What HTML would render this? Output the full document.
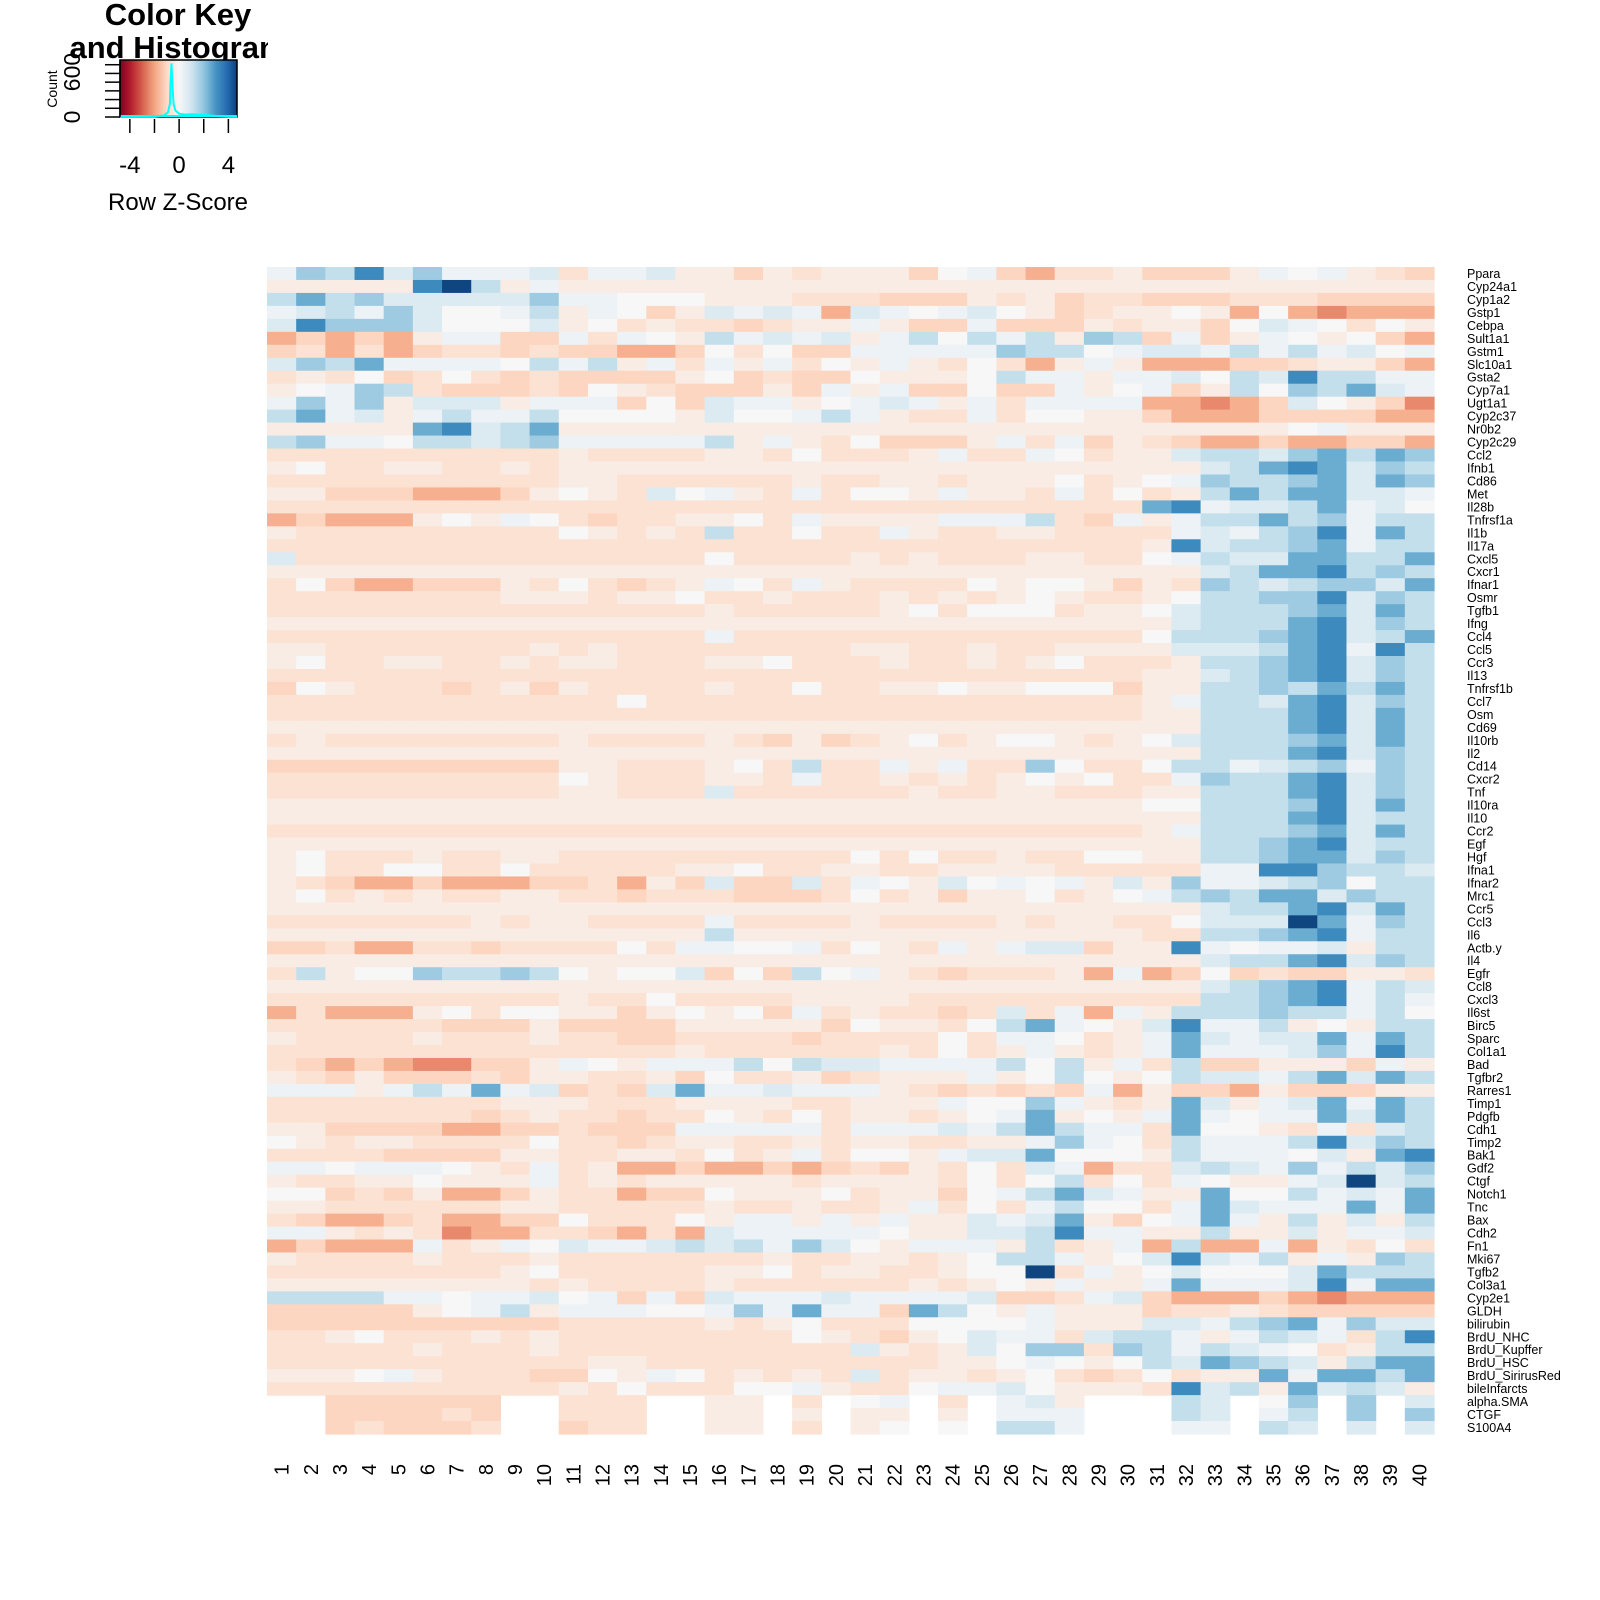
<!DOCTYPE html>
<html><head><meta charset="utf-8"><style>
html,body{margin:0;padding:0;background:#fff;}
svg{display:block;font-family:"Liberation Sans",Arial,sans-serif;}
</style></head><body>
<svg id="chart" width="1600" height="1600" viewBox="0 0 1600 1600" xmlns="http://www.w3.org/2000/svg">
<defs>
<clipPath id="keyclip"><rect x="0" y="0" width="268" height="240"/></clipPath>
<linearGradient id="keygrad" x1="0" x2="1" y1="0" y2="0"></linearGradient>
</defs>
<g id="key" clip-path="url(#keyclip)">
<text x="178" y="25" text-anchor="middle" font-weight="bold" font-size="31">Color Key</text>
<text x="178" y="58" text-anchor="middle" font-weight="bold" font-size="31">and Histogram</text>
</g>
<g id="heat"></g>
<g id="rowlabels"></g>
<g id="collabels"></g>
</svg>
<script>
const rowNames=["Ppara","Cyp24a1","Cyp1a2","Gstp1","Cebpa","Sult1a1","Gstm1","Slc10a1","Gsta2","Cyp7a1","Ugt1a1","Cyp2c37","Nr0b2","Cyp2c29","Ccl2","Ifnb1","Cd86","Met","Il28b","Tnfrsf1a","Il1b","Il17a","Cxcl5","Cxcr1","Ifnar1","Osmr","Tgfb1","Ifng","Ccl4","Ccl5","Ccr3","Il13","Tnfrsf1b","Ccl7","Osm","Cd69","Il10rb","Il2","Cd14","Cxcr2","Tnf","Il10ra","Il10","Ccr2","Egf","Hgf","Ifna1","Ifnar2","Mrc1","Ccr5","Ccl3","Il6","Actb.y","Il4","Egfr","Ccl8","Cxcl3","Il6st","Birc5","Sparc","Col1a1","Bad","Tgfbr2","Rarres1","Timp1","Pdgfb","Cdh1","Timp2","Bak1","Gdf2","Ctgf","Notch1","Tnc","Bax","Cdh2","Fn1","Mki67","Tgfb2","Col3a1","Cyp2e1","GLDH","bilirubin","BrdU_NHC","BrdU_Kupffer","BrdU_HSC","BrdU_SirirusRed","bileInfarcts","alpha.SMA","CTGF","S100A4"];
const colNames=["1","2","3","4","5","6","7","8","9","10","11","12","13","14","15","16","17","18","19","20","21","22","23","24","25","26","27","28","29","30","31","32","33","34","35","36","37","38","39","40"];
const levelCodes="rRspqwbcCdDef";
const levelValues=[-2.4,-1.8,-1.1,-0.75,-0.4,0,0.3,0.7,1.2,1.8,2.5,3.2,4.6];
const rowCodes=[
"bdCecdbbbcpbbcqqsqpqqqswbsRppqsssqbwbqps",
"qqqqqefCqbqqqqqqqqqqqqqqqqqqqqqqqqqqqqqq",
"CDCdcccccdbbwwwqqqpppsssqpqsppssspppssss",
"bcCbdcwwbCqbwsqcbcbRcbwbcwqspqqwqRwRrRRR",
"cedddcwwwcqwpqppspqqbqssbsssqpqqswcbwpwq",
"RsRsRqbbssbpbwqCbcbcqbCwCbCqdCsbsqbwqwsR",
"spRpRsppspssRRswpwssbbbbbdCCwbccbCbCbcwb",
"cdCDbbbbwCbCqbpbqbpwqbqpwpRqbqRRRsspqqsR",
"pqpwspwpspssssqwspsswqqqwCbbqbbcwCceCCbb",
"qwbdCpssspswqpsssqsbqbsswssbqwbsqCwdCDcb",
"bdbdqcccqbbbswscbbqwbcbqbpbbbbRRrRscwqsr",
"CDbcqbCbbCwwwwqcwwbCbqppbpwwqqsRRRssssRR",
"qqqqqDecCDqqqqqqqqqqqqqqqqqqqqqqqqqwbqqq",
"CdbbwCCcCdbbbbbCqbqpwsssqbpbsqpsRRsRRssR",
"ppppppppppqppppqqpwpppqbppbwpqqcCCcdDCDd",
"qwppqqppqpqqqqqqqqqqqqqqqqqqqqqqcCDeDcdC",
"ppppppppppqqppppppqppqqpqqqwpqwbdCCdDcDd",
"qqsssRRRsqwqpcwbqpbpwwqbqqpbpwpqCDCDDccb",
"ppppppppppppppppppppppppppppppDebccCDbcw",
"RsRRRqwqbwpsppqqwpbqqqqbbbCpsbqbCCDCdbCC",
"qpppppppppwqpqpCppwppbqppqqppppbcbCdebDC",
"ppppppppppppppppppppppppppppppqecCCdDbCC",
"cpppppppppppppwppppqpqpppqqppwbCccDDCCD".length===40?"":"cppppppppppppppwppppqpqpppqqppwbCccDDCCD",
"qqqqqqqqqqqqqqqqqqqqqqqqqqqqqqqqcCDDeCdC",
"pwsRRsssqpwpspqbwpbqppppwqwwqsqpdCcCddcD",
"ppppppppqqqpqqwppqpppqpqpqwqppqwCCddecdC",
"pppppppppppppppqpppppqwpwwwpqqwcCCCdDcDC",
"qqqqqqqqqqqqqqqqqqqqqqqqqqqqqqqcCCCDecdC",
"pppppppppppppppbppppppppppppppwCCCdDecCD",
"qqpppppppqpqppppppppqqppqppqqqqcccCDebeC",
"qwppqqppqpqqpppqqwpppqppqpqwpppqCCdDecdC",
"ppppppppppppppppppppppppppppppqqcCdDecdC",
"swqpppspqsqppppqppwppqqwqqwwwsqqCCdCDCDC",
"ppppppppppppwpppppppppppppppppqbCCcDecdC",
"ppppppppppppppppppppppppppppppqqCCCDecDC",
"qqqqqqqqqqqqqqqqqqqqqqqqqqqqqqqqCCCDecDC",
"pqppppppppqppppqpsqspqwpqwwqpqwcCCCdDcDC",
"qqqqqqqqqqqqqqqqqqqqqqqqqqqqqqqqCCCDecdC",
"ssssssssssqqpppqwpCppbqbppdwppwCCbcCdbdC",
"ppppppppppwqpppqqpbppqpqpqwqwppbdCCDecdC",
"ppppppppppqqpppcppppppqppqqpppqqCCCDecdC",
"qqqqqqqqqqqqqqqqqqqqqqqqqqqqqqwwCCCdecDC",
"qqqqqqqqqqqqqqqqqqqqqqqqqqqqqqqqCCCDecCC",
"ppppppppppppppppppppppppppppppqbCCCdDcDC",
"qqqqqqqqqqqqqqqqqqqqqqqqqqqqqqqqCCdDecCC",
"qwpppqppqqppppppppppwpwppqppwwqqCCdDDcdC",
"qwppwwppwpppppqqwppqqppqqqqpppppbbeedCCc",
"qpsRRsRRRsspRqscsscpbwqcwbwbqcqdbbcCdwCC",
"qwpqpqppqqppspppssspwpqsqqwpqwbCdCDDcdCC",
"qqqqqqqqqqqqqqqqqqqqqqqqqqqqqqqqcCCDecDC",
"pppppppqpqqppppbppppqppppqpqqppwcccfDbdC",
"qqqqqqqqqqqqqqqCqqqqqqqqqqqqqqppCCdDebCC",
"sspRRppsppppwpbbwwbpwqpbqbccsqqebwbbcqCC",
"qqqqqqqqqqqqqqqqqqqqqqqqqqqqqqqqcCCDecdC",
"pCqwwdCCdCwqwwcswsCwbqpspppqRbRswspssqqp",
"qqqqqqqqqqqqqqqqqqqqqqqqqqqqqqqqcCdDebCc",
"ppppppppppqppwppppqqqqppppppppppCCdDebCb",
"RpRRRqwpwwqqsqwqwsbpqppspcpbRbqCCCdCCbCw",
"ppppppsssqssssqqqqqswqqpwCDbwqcebbCqwqCC",
"qppppqpppqppssppppsppppwpbbwpqbDcbccDbDC",
"ppppppppppppppqppppppqpwpqbqpqbDbbbcdbeC",
"psRsRrrssqbwqbbbCwCccbbbbCwCqbpCssqqqsbq",
"qpsqssspsqqppqswppqspqqqbqwCwqwCccbCDcDC",
"bbbqbCbDbcspscDbbcbbbqpspspsbRqssRqsssqq",
"ppppppppqqqpppqqqqppqqqbwwdbqpqDcqbcDbDC",
"pppppppspqppsppwqpwpqqpqwbDqwqbDbwbbDcDC",
"qqssssRRsspsssbbbbbpbbbcbCDCbbpDwwqpbpcC",
"wqpqqppppwppspqqppqpqqppqqbdbwpCbbbCecdC",
"ppppssssqqppqqpwpqbpwwqbccDwwwqCbbbwcqDe",
"bbwbbbwqpbpqRRsRRsRspsqpwpcbRppcCcbdbCcd",
"qppqqwqqqbpqpqqqqqpqqqqpwpwCpwpbwqqbcfcC",
"wwspsqRRsqppRsswqqqwpqqswbCDcbqqDwwCbcbD",
"qqppppppqqpppppqppqppqbpwpbCwwpbDcbbbDbD",
"psRRspRRsswpppwqbbqbqbqqcbcDqswbDbqCqcqC",
"bbqpqprRRppsRpRcbbbbbwqqccCebbqqCqqcqbbc",
"RsRRRbpqbwcbbcCcCbdcwqbbbqCpqbRCRRbRqpwp",
"qppppqpppqpppppppqppqqpqwCCbqwcecbCqbqdC",
"ppppppppqwpppppqqwpqqppqwwfpbqwcwwwcDCCC",
"qqqqqqqqqpqppppqppppppqpqwqbqqbDbbbcebDD",
"CCCCbbwbbcwbsbscbbbcbbbbcsspbcsRRRsRrRRR",
"sssssqwbCqbbbwwbdbDbbsDCwqbqqqsppqpsssss",
"sssssssssspppppqpqwpppwwwwbqqqccbCdDbdcc",
"ppqwpppqpqppppppppwqpsqwcbbpcCCbqbCcbpCe",
"pppppqpppqppppppppppcqpqcwddpdCbCcbwpqCC",
"pppppppppppqqppppppppppqqwbwqwCcDdCcqCDD",
"qqqwbqpppsswqbwpqpqpcpqqpqwpspwpqqDbDDCD",
"ppppppppppqpwpppwwbqppwbbcwqqqpecCqDcCcq",
"..ssssss..ppp..qq.p.wb.p.bcq...Cc.wd.d.c",
"..ssssps..ppp..qq.q.qq.q.bbb...Cc.bC.d.d",
"..spsssp..spp..qq.p.qw.w.CCb...bb.Cc.c.c"
];
// decode to numeric z-scores (null = NA)
const values=rowCodes.map(s=>{const a=[];for(let i=0;i<40;i++){const ch=s[i]||'q';const k=levelCodes.indexOf(ch);a.push(k<0?null:levelValues[k]);}return a;});

const histX=[-4.8,-2,-1.2,-0.9,-0.75,-0.7,-0.62,-0.55,-0.45,-0.3,0,0.5,1,1.5,2,2.5,3,4,4.7];
const histY=[2,5,20,60,160,420,660,420,160,80,40,30,35,30,28,20,12,6,2];

const NS="http://www.w3.org/2000/svg";
const stops=[[103,0,31],[178,24,43],[214,96,77],[244,165,130],[253,219,199],[247,247,247],[209,229,240],[146,197,222],[67,147,195],[33,102,172],[5,48,97]];
function zcolor(z){let t=(z+5);if(t<0)t=0;if(t>10)t=10;const i=Math.min(9,Math.floor(t));const f=t-i;const a=stops[i],b=stops[i+1];return 'rgb('+a.map((v,k)=>Math.round(v+(b[k]-v)*f)).join(',')+')';}
function mk(tag,attrs,parent){const e=document.createElementNS(NS,tag);for(const k in attrs)e.setAttribute(k,attrs[k]);parent.appendChild(e);return e;}

const X0=267,X1=1434,Y0=267,Y1=1434;
const cw=(X1-X0)/colNames.length, rh=(Y1-Y0)/rowNames.length;
const xPos=c=>X0+c*cw, yPos=r=>Y0+r*rh;
const heat=document.getElementById('heat');
values.forEach((row,r)=>{row.forEach((v,c)=>{if(v===null)return;
 const el=mk('rect',{x:xPos(c).toFixed(2),y:yPos(r).toFixed(2),width:(cw+0.6).toFixed(2),height:(rh+0.6).toFixed(2),fill:zcolor(v)},heat);
 
 
});});
const rl=document.getElementById('rowlabels');
rowNames.forEach((n,r)=>{const t=mk('text',{x:1467,y:(yPos(r)+rh/2+4.5).toFixed(2),'font-size':'12.5'},rl);t.textContent=n;
 
 
});
const cl=document.getElementById('collabels');
colNames.forEach((n,c)=>{const x=xPos(c)+cw/2+7,y=1464;const t=mk('text',{x:x,y:y,'font-size':'20','text-anchor':'end',transform:'rotate(-90 '+x+' '+y+')'},cl);t.textContent=n;
 
 
});

const key=document.getElementById('key');
const kx0=120,kx1=237,ky0=60,ky1=117;
const kz=z=>kx0+(z+4.8)/(9.5)*(kx1-kx0);
const grad=document.getElementById('keygrad');
for(let i=0;i<=40;i++){const z=-4.8+9.5*i/40;mk('stop',{offset:(i/40).toFixed(3),'stop-color':zcolor(z)},grad);}
const kb=mk('rect',{x:kx0,y:ky0,width:kx1-kx0,height:ky1-ky0,fill:'url(#keygrad)',stroke:'#000','stroke-width':1.5},key);


const hy=v=>ky1-v/700*(ky1-ky0);
const pts=histX.map((z,i)=>kz(z).toFixed(1)+','+hy(histY[i]).toFixed(1)).join(' ');
const hl=mk('polyline',{points:pts,fill:'none',stroke:'#00ffff','stroke-width':2},key);


const bl=mk('line',{x1:kx0,x2:kx1,y1:ky1-1,y2:ky1-1,stroke:'#00ffff','stroke-width':2},key);


const ya=mk('line',{x1:kx0,x2:kx0,y1:ky0,y2:ky1,stroke:'#000','stroke-width':1.5},key);


[0,100,200,300,400,500,600].forEach(v=>{const y=hy(v*1.07);const l=mk('line',{x1:105,x2:kx0,y1:y,y2:y,stroke:'#000','stroke-width':1.5},key);
 
 });
[["0",117],["600",72]].forEach(([s,y])=>{const t=mk('text',{x:80,y:y,'font-size':'23','text-anchor':'middle',transform:'rotate(-90 80 '+y+')'},key);t.textContent=s;
 
 });
const ct=mk('text',{x:57,y:89,'font-size':'14','text-anchor':'middle',transform:'rotate(-90 57 89)'},key);ct.textContent='Count';


[-4,-2,0,2,4].forEach(z=>{const x=kz(z);const l=mk('line',{x1:x,x2:x,y1:ky1+2,y2:133,stroke:'#000','stroke-width':1.5},key);
 
 });
[-4,0,4].forEach(z=>{const t=mk('text',{x:kz(z),y:173,'font-size':'24','text-anchor':'middle'},key);t.textContent=String(z);
 
 });
const xt=mk('text',{x:178,y:210,'font-size':'24','text-anchor':'middle'},key);xt.textContent='Row Z-Score';


</script>
</body></html>
